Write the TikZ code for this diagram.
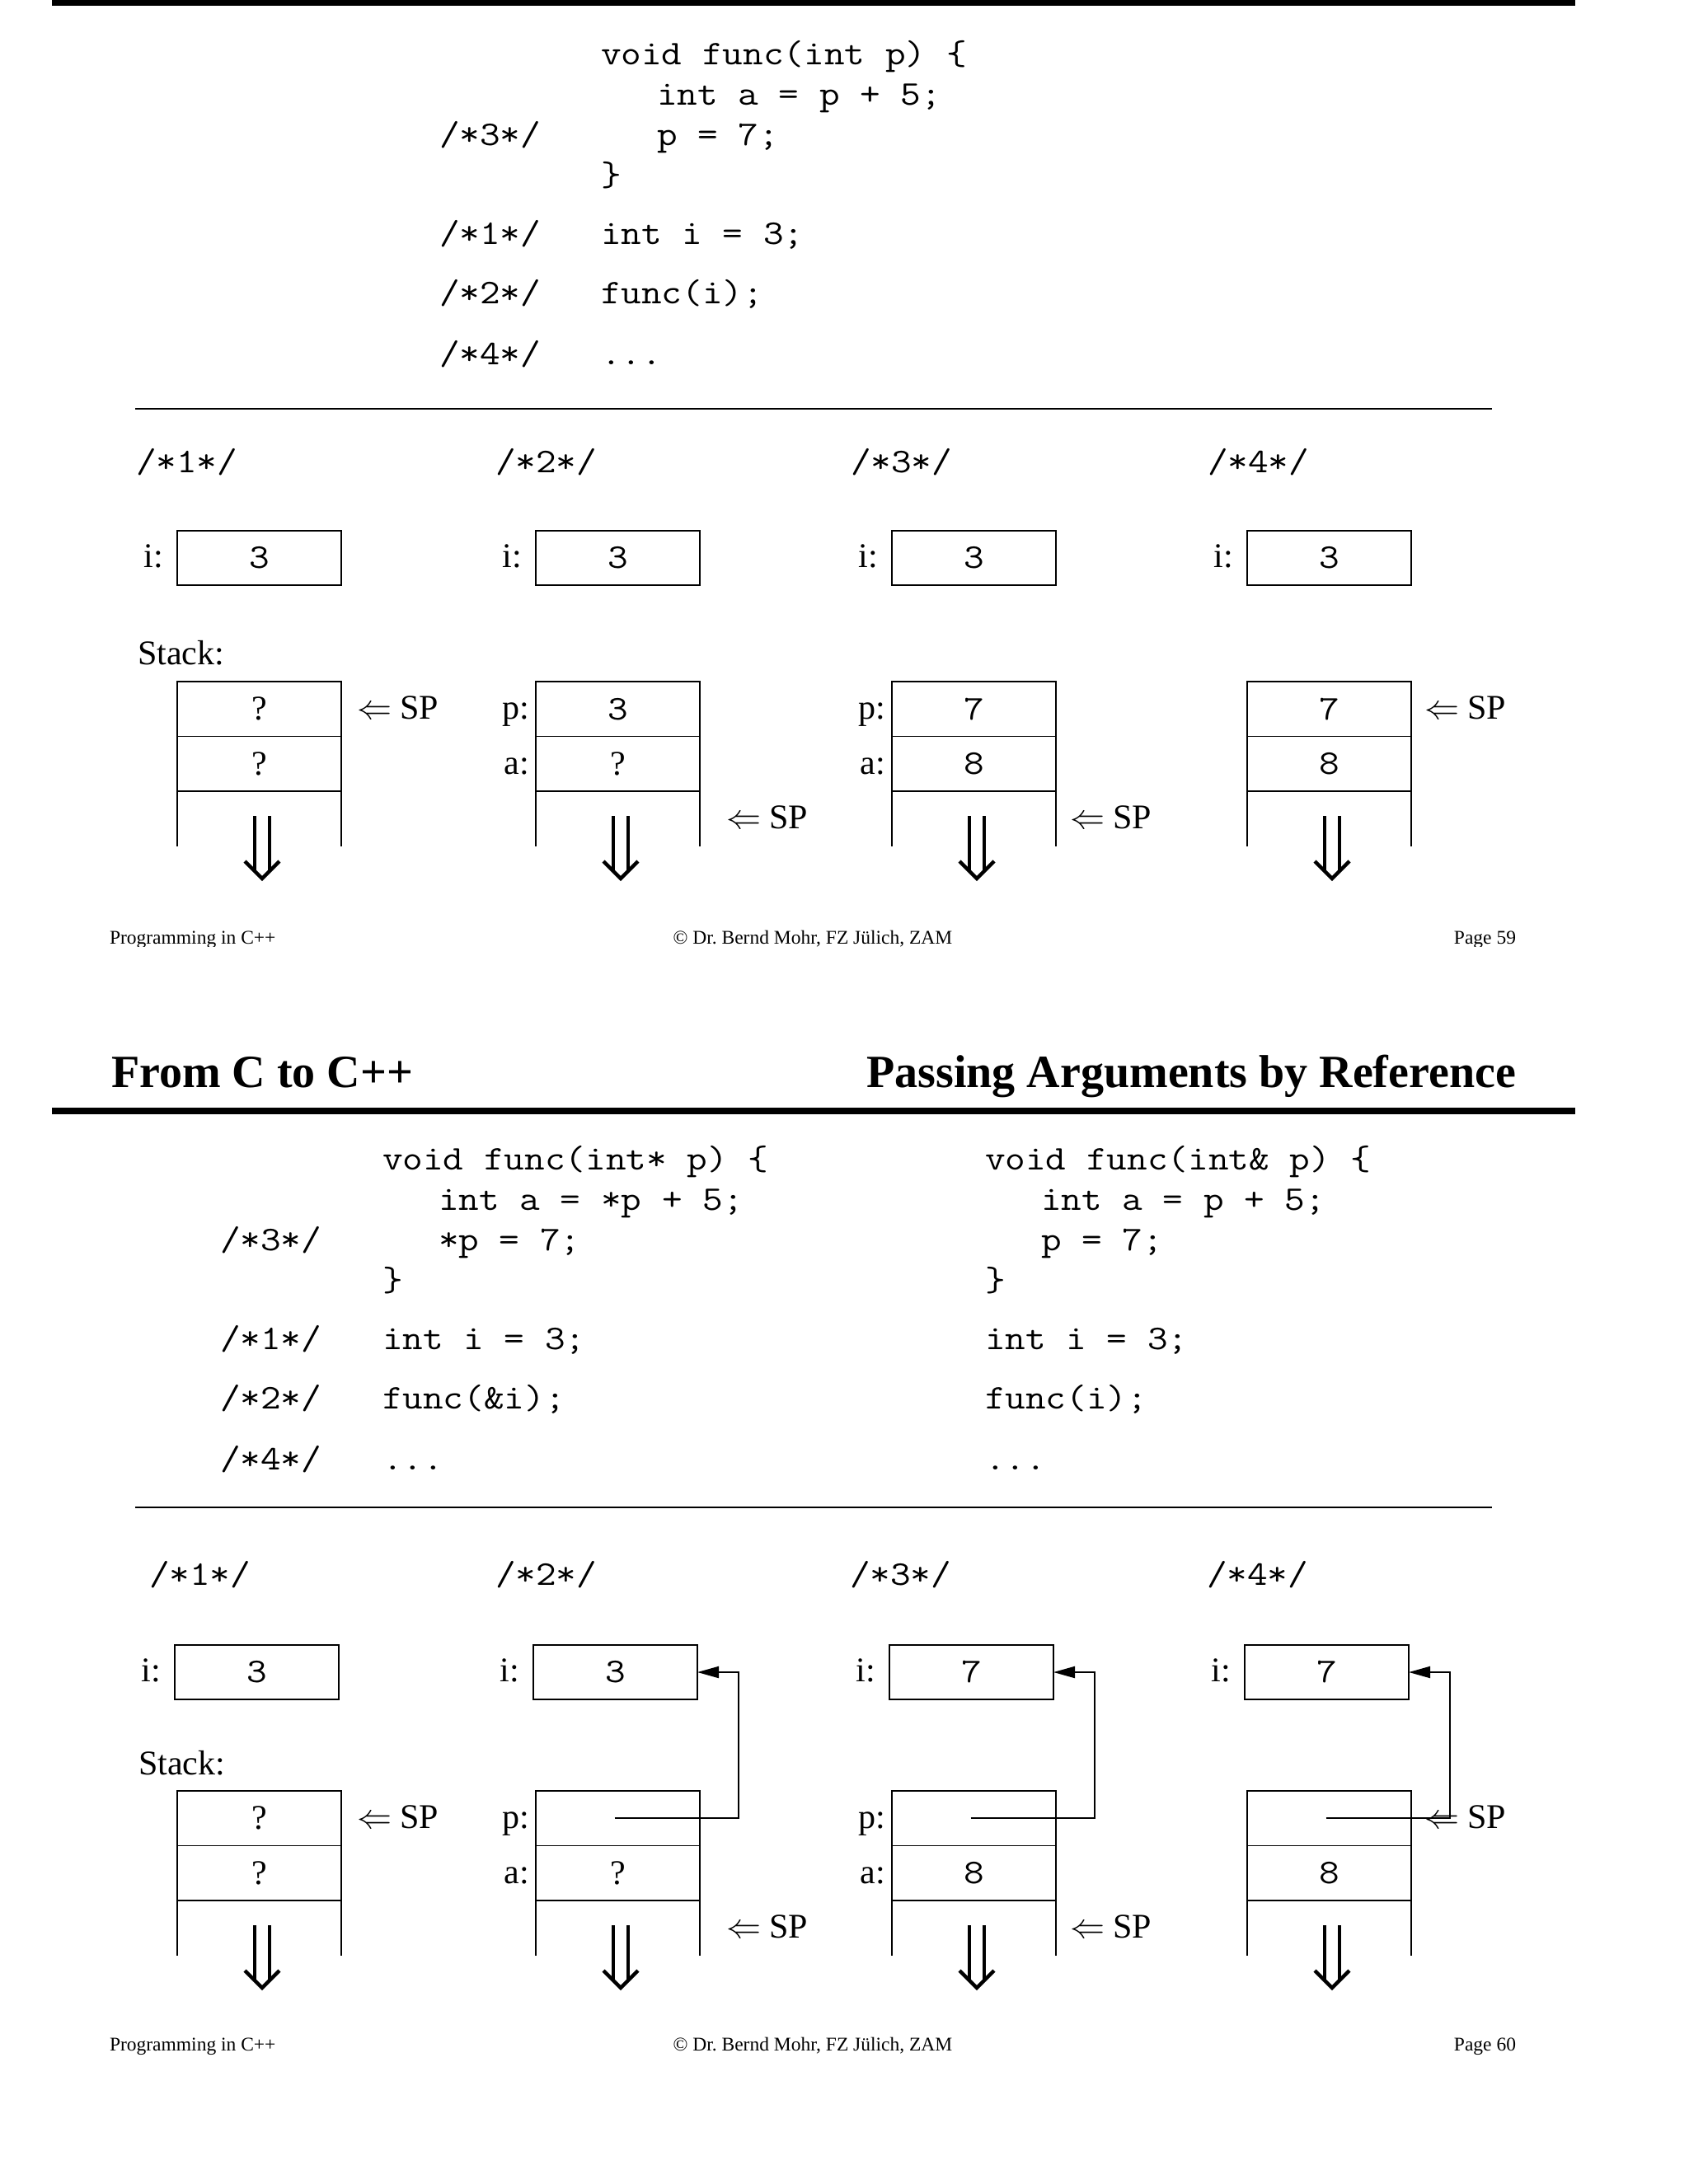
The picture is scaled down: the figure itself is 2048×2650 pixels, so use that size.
\RequirePackage{fix-cm}
\documentclass[tikz,border=0pt]{standalone}
\usepackage{fontspec}
\setmainfont{Liberation Serif}
\usetikzlibrary{arrows.meta,calc}
\frenchspacing
\newcommand\codefnt{\ttfamily\fontsize{42}{42}\selectfont}
\newcommand\cx[1]{\scalebox{1.14}[1]{#1}}
\newcommand\lblfnt{\rmfamily\mdseries\fontsize{42}{42}\selectfont}
\newcommand\ttlfnt{\rmfamily\bfseries\fontsize{56}{56}\selectfont}
\newcommand\ftfnt{\rmfamily\mdseries\fontsize{23.5}{23.5}\selectfont}
\newcommand\spl{$\Leftarrow$ SP}
\begin{document}
\begin{tikzpicture}[x=1pt,y=-1pt,
  every node/.style={inner sep=0pt, outer sep=0pt},
  codeln/.style={anchor=base west, font=\codefnt},
  lbl/.style={anchor=base east, font=\lblfnt},
  lblw/.style={anchor=base west, font=\lblfnt},
  varbox/.style={draw, line width=1.8pt, minimum width=199pt, minimum height=66pt, anchor=north west, font=\codefnt},
  cellbox/.style={draw, line width=1.8pt, minimum width=199pt, minimum height=66.5pt, anchor=north west, font=\codefnt},
  qcell/.style={cellbox, font=\lblfnt},
  cellline/.style={line width=1.8pt},
  ptrline/.style={line width=2pt, -{Triangle[length=26pt,width=14pt]}},
  sepline/.style={line width=2.5pt},
  footl/.style={anchor=base west, font=\ftfnt},
  footc/.style={anchor=base, font=\ftfnt},
  footr/.style={anchor=base east, font=\ftfnt},
  dblarr/.pic={
    \draw[line width=4.5pt] (-9,-76) -- (-9,-8) (9,-76) -- (9,-8);
    \draw[line width=4.5pt, miter limit=10] (-21,-21) -- (0,0) -- (21,-21);
  }
]
\useasboundingbox (0,0) rectangle (2048,2650);
\fill[white] (0,0) rectangle (2048,2650);

%================ TOP PAGE =================
\fill (63,0) rectangle (1911,7);
\node[codeln] (ta1) at (729,78)  {\cx{void func(int p) \{}};
\node[codeln] (ta2) at (797,127) {\cx{int a = p + 5;}};
\node[codeln] (tl3) at (533,176) {\cx{/*3*/}};
\node[codeln] (ta3) at (797,176) {\cx{p = 7;}};
\node[codeln] (ta4) at (729,225) {\cx{\}}};
\node[codeln] (tl1) at (533,296) {\cx{/*1*/}};
\node[codeln] (ta5) at (729,296) {\cx{int i = 3;}};
\node[codeln] (tl2) at (533,368) {\cx{/*2*/}};
\node[codeln] (ta6) at (729,368) {\cx{func(i);}};
\node[codeln] (tl4) at (533,442) {\cx{/*4*/}};
\node[codeln] (ta7) at (729,442) {\cx{...}};
\draw[sepline] (164,496) -- (1810,496);

% column headings
\node[codeln] (th1) at (165,573)  {\cx{/*1*/}};
\node[codeln] (th2) at (601,573)  {\cx{/*2*/}};
\node[codeln] (th3) at (1032,573) {\cx{/*3*/}};
\node[codeln] (th4) at (1465,573) {\cx{/*4*/}};

% i boxes
\node[varbox] (ti1) at (215,644)  {\cx{3}};
\node[varbox] (ti2) at (650,644)  {\cx{3}};
\node[varbox] (ti3) at (1082,644) {\cx{3}};
\node[varbox] (ti4) at (1513,644) {\cx{3}};
\node[lbl] (til1) at (198,688)  {i:};
\node[lbl] (til2) at (633,688)  {i:};
\node[lbl] (til3) at (1065,688) {i:};
\node[lbl] (til4) at (1496,688) {i:};

\node[lblw] (tstk) at (167,806) {Stack:};

% column 1
\node[qcell] (ts1a) at (215,827)   {?};
\node[qcell] (ts1b) at (215,893.5) {?};
\draw[cellline] (ts1b.south west) -- ++(0,66.5) (ts1b.south east) -- ++(0,66.5);
\pic at (318,1066) {dblarr};
\node[lblw] (tsp1) at (433,872) {\spl};

% column 2
\node[cellbox] (ts2a) at (650,827)   {\cx{3}};
\node[qcell]   (ts2b) at (650,893.5) {?};
\draw[cellline] (ts2b.south west) -- ++(0,66.5) (ts2b.south east) -- ++(0,66.5);
\node[lbl] (tp2) at (642,872) {p:};
\node[lbl] (tq2) at (642,939) {a:};
\pic at (753,1066) {dblarr};
\node[lblw] (tsp2) at (881,1005) {\spl};

% column 3
\node[cellbox] (ts3a) at (1082,827)   {\cx{7}};
\node[cellbox] (ts3b) at (1082,893.5) {\cx{8}};
\draw[cellline] (ts3b.south west) -- ++(0,66.5) (ts3b.south east) -- ++(0,66.5);
\node[lbl] (tp3) at (1074,872) {p:};
\node[lbl] (tq3) at (1074,939) {a:};
\pic at (1185,1066) {dblarr};
\node[lblw] (tsp3) at (1298,1005) {\spl};

% column 4
\node[cellbox] (ts4a) at (1513,827)   {\cx{7}};
\node[cellbox] (ts4b) at (1513,893.5) {\cx{8}};
\draw[cellline] (ts4b.south west) -- ++(0,66.5) (ts4b.south east) -- ++(0,66.5);
\pic at (1616,1066) {dblarr};
\node[lblw] (tsp4) at (1728,872) {\spl};

% top footer (cut off at the bottom)
\begin{scope}
\clip (0,1100) rectangle (2048,1148);
\node[footl] (tf1) at (133,1145) {Programming in C++};
\node[footc] (tf2) at (986,1145) {© Dr. Bernd Mohr, FZ Jülich, ZAM};
\node[footr] (tf3) at (1839,1145) {Page 59};
\end{scope}

%================ BOTTOM PAGE =================
\node[anchor=base west, font=\ttlfnt] (title1) at (135,1319) {From C to C++};
\node[anchor=base east, font=\ttlfnt] (title2) at (1839,1319) {Passing Arguments by Reference};
\fill (63,1344) rectangle (1911,1352);

\node[codeln] (ba1) at (464,1419) {\cx{void func(int* p) \{}};
\node[codeln] (ba2) at (532,1468) {\cx{int a = *p + 5;}};
\node[codeln] (bl3) at (267,1517) {\cx{/*3*/}};
\node[codeln] (ba3) at (532,1517) {\cx{*p = 7;}};
\node[codeln] (ba4) at (464,1566) {\cx{\}}};
\node[codeln] (bl1) at (267,1637) {\cx{/*1*/}};
\node[codeln] (ba5) at (464,1637) {\cx{int i = 3;}};
\node[codeln] (bl2) at (267,1709) {\cx{/*2*/}};
\node[codeln] (ba6) at (464,1709) {\cx{func(\&i);}};
\node[codeln] (bl4) at (267,1783) {\cx{/*4*/}};
\node[codeln] (ba7) at (464,1783) {\cx{...}};

\node[codeln] (bb1) at (1195,1419) {\cx{void func(int\& p) \{}};
\node[codeln] (bb2) at (1263,1468) {\cx{int a = p + 5;}};
\node[codeln] (bb3) at (1263,1517) {\cx{p = 7;}};
\node[codeln] (bb4) at (1195,1566) {\cx{\}}};
\node[codeln] (bb5) at (1195,1637) {\cx{int i = 3;}};
\node[codeln] (bb6) at (1195,1709) {\cx{func(i);}};
\node[codeln] (bb7) at (1195,1783) {\cx{...}};
\draw[sepline] (164,1829) -- (1810,1829);

\node[codeln] (bh1) at (181,1923)  {\cx{/*1*/}};
\node[codeln] (bh2) at (601,1923)  {\cx{/*2*/}};
\node[codeln] (bh3) at (1031,1923) {\cx{/*3*/}};
\node[codeln] (bh4) at (1464,1923) {\cx{/*4*/}};

\node[varbox] (bi1) at (212,1996)  {\cx{3}};
\node[varbox] (bi2) at (647,1996)  {\cx{3}};
\node[varbox] (bi3) at (1079,1996) {\cx{7}};
\node[varbox] (bi4) at (1510,1996) {\cx{7}};
\node[lbl] (bil1) at (195,2040)  {i:};
\node[lbl] (bil2) at (630,2040)  {i:};
\node[lbl] (bil3) at (1062,2040) {i:};
\node[lbl] (bil4) at (1493,2040) {i:};

\node[lblw] (bstk) at (168,2153) {Stack:};

% column 1
\node[qcell] (bs1a) at (215,2173)   {?};
\node[qcell] (bs1b) at (215,2239.5) {?};
\draw[cellline] (bs1b.south west) -- ++(0,66.5) (bs1b.south east) -- ++(0,66.5);
\pic at (318,2412) {dblarr};
\node[lblw] (bsp1) at (433,2218) {\spl};

% column 2
\node[cellbox] (bs2a) at (650,2173)   {};
\node[qcell]   (bs2b) at (650,2239.5) {?};
\draw[cellline] (bs2b.south west) -- ++(0,66.5) (bs2b.south east) -- ++(0,66.5);
\node[lbl] (bp2l) at (642,2218) {p:};
\node[lbl] (bq2l) at (642,2285) {a:};
\pic at (753,2412) {dblarr};
\node[lblw] (bsp2) at (881,2351) {\spl};
\coordinate (bp2) at ($(bs2a.center)+(-4,0)$);
\draw[ptrline] (bp2) -| ($(bi2.east)+(50,0)$) -- (bi2.east);

% column 3
\node[cellbox] (bs3a) at (1082,2173)   {};
\node[cellbox] (bs3b) at (1082,2239.5) {\cx{8}};
\draw[cellline] (bs3b.south west) -- ++(0,66.5) (bs3b.south east) -- ++(0,66.5);
\node[lbl] (bp3l) at (1074,2218) {p:};
\node[lbl] (bq3l) at (1074,2285) {a:};
\pic at (1185,2412) {dblarr};
\node[lblw] (bsp3) at (1298,2351) {\spl};
\coordinate (bp3) at ($(bs3a.center)+(-4,0)$);
\draw[ptrline] (bp3) -| ($(bi3.east)+(50,0)$) -- (bi3.east);

% column 4
\node[cellbox] (bs4a) at (1513,2173)   {};
\node[cellbox] (bs4b) at (1513,2239.5) {\cx{8}};
\draw[cellline] (bs4b.south west) -- ++(0,66.5) (bs4b.south east) -- ++(0,66.5);
\pic at (1616,2412) {dblarr};
\coordinate (bp4) at ($(bs4a.center)+(-4,0)$);
\draw[ptrline] (bp4) -| ($(bi4.east)+(50,0)$) -- (bi4.east);
\node[lblw] (bsp4) at (1728,2218) {\spl};

% bottom footer
\node[footl] (bf1) at (133,2488) {Programming in C++};
\node[footc] (bf2) at (986,2488) {© Dr. Bernd Mohr, FZ Jülich, ZAM};
\node[footr] (bf3) at (1839,2488) {Page 60};
\end{tikzpicture}
\end{document}
